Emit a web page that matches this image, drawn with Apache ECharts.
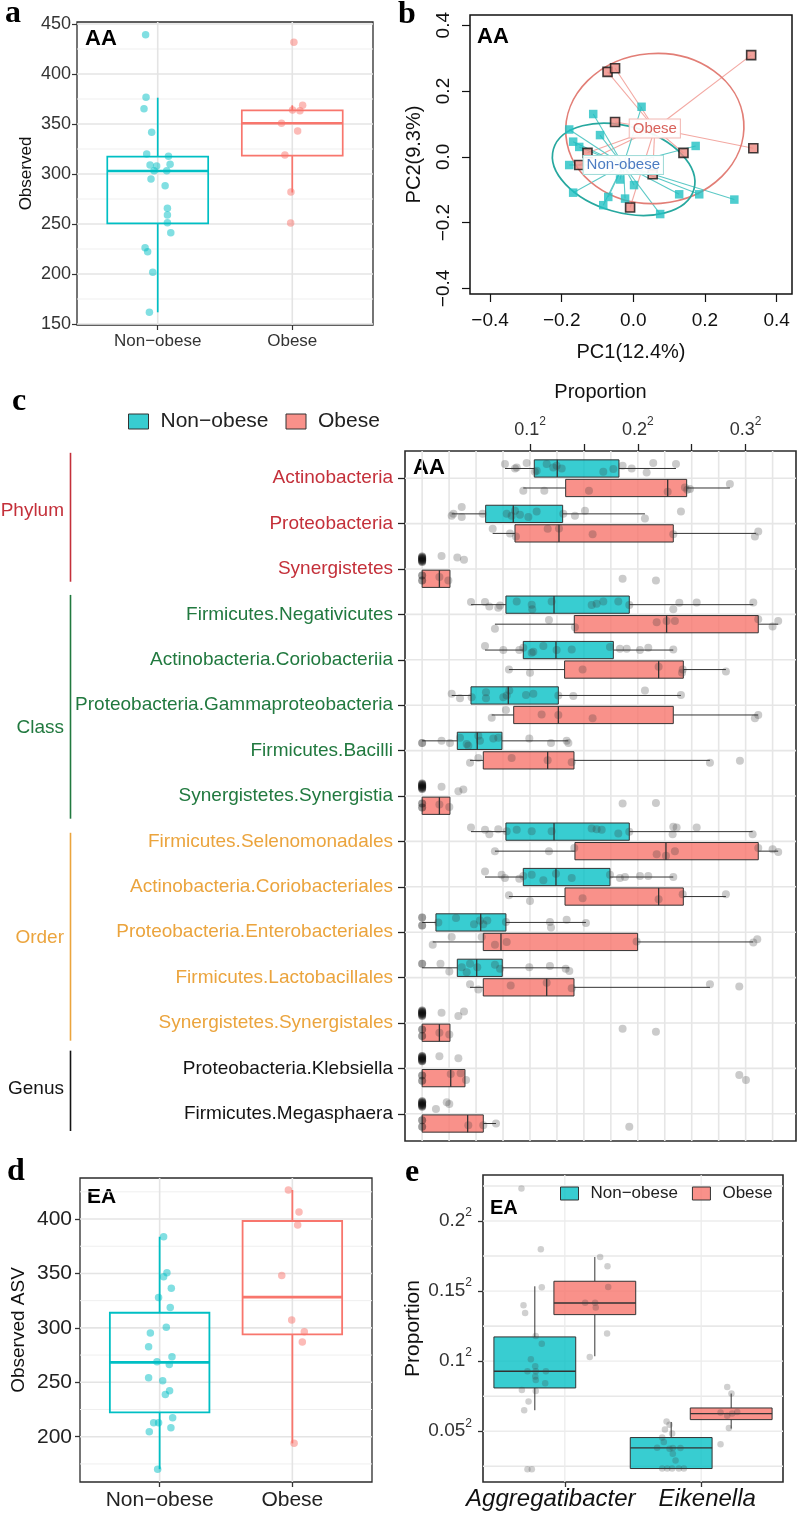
<!DOCTYPE html>
<html><head><meta charset="utf-8">
<script src="https://cdn.jsdelivr.net/npm/echarts@6/dist/echarts.min.js"></script>
<style>html,body{margin:0;padding:0;background:#fff}#chart{width:800px;height:1513px}</style>
</head><body><div id="chart"></div>
<script>
// ================= DATA =================
// ---- panel a (AA, observed richness) ----
const aCategories = ['Non\u2212obese', 'Obese'];
const aYTicks = [150, 200, 250, 300, 350, 400, 450];
const aYMinor = [175, 225, 275, 325, 375, 425];
const aBoxNonObese = [161.7, 250.7, 303, 317.3, 376.3];   // lower whisker, Q1, median, Q3, upper whisker
const aBoxObese = [281.5, 318.3, 350.7, 363.7, 368.7];
const aPtsNonObese = [439.3, 376.7, 365.3, 341.7, 320, 317.7, 309, 308, 309.7, 303.3, 303.3, 295, 288.3, 265.7, 259, 251.3, 241.3, 226.3, 222.3, 201.7, 161.7];
const aJitNonObese = [-0.09, -0.087, -0.102, -0.045, -0.082, 0.08, -0.057, -0.008, 0.092, -0.027, 0.067, -0.05, 0.055, 0.072, 0.072, 0.072, 0.097, -0.094, -0.075, -0.037, -0.062];
const aPtsObese = [431.7, 368.7, 364, 363.3, 350.7, 343, 319, 282, 251];
const aJitObese = [0.012, 0.077, 0.002, 0.057, -0.08, 0.04, -0.055, -0.01, -0.012];

// ---- panel b (AA, PCoA) ----
const bTicks = [-0.4, -0.2, 0, 0.2, 0.4];
const bObese = [[-0.072, 0.258], [-0.051, 0.269], [0.329, 0.309], [-0.051, 0.106], [-0.128, 0.012], [0.14, 0.012], [0.335, 0.026], [0.054, -0.053], [-0.009, -0.154], [-0.151, -0.025]];
const bNonObese = [[0.023, 0.152], [-0.112, 0.13], [-0.179, 0.083], [-0.093, 0.066], [-0.168, 0.046], [-0.151, 0.03], [0.174, 0.033], [-0.179, -0.025], [-0.037, -0.069], [0.002, -0.086], [-0.168, -0.109], [-0.07, -0.122], [-0.023, -0.127], [-0.084, -0.147], [0.128, -0.114], [0.184, -0.114], [0.282, -0.13], [0.075, -0.174]];
const bCentroidObese = [0.06, 0.086];
const bCentroidNonObese = [-0.028, -0.025];
const bEllipseObese = [0.06, 0.086, 0.249, 0.228];        // centre x, centre y, semi-axis x, semi-axis y
const bEllipseObeseRot = 0.08;
const bEllipseNonObese = [-0.027, -0.038, 0.204, 0.131];
const bEllipseNonObeseRot = -0.28;

// ---- panel c (AA, taxa proportions, sqrt scale) ----
const cCategories = ['Actinobacteria', 'Proteobacteria', 'Synergistetes', 'Firmicutes.Negativicutes', 'Actinobacteria.Coriobacteriia', 'Proteobacteria.Gammaproteobacteria', 'Firmicutes.Bacilli', 'Synergistetes.Synergistia', 'Firmicutes.Selenomonadales', 'Actinobacteria.Coriobacteriales', 'Proteobacteria.Enterobacteriales', 'Firmicutes.Lactobacillales', 'Synergistetes.Synergistales', 'Proteobacteria.Klebsiella', 'Firmicutes.Megasphaera'];
const cLevels = ['Phylum', 'Phylum', 'Phylum', 'Class', 'Class', 'Class', 'Class', 'Class', 'Order', 'Order', 'Order', 'Order', 'Order', 'Genus', 'Genus'];
const cGroupNames = ['Phylum', 'Class', 'Order', 'Genus'];
const cGroupSpan = [[0.44, 3.28], [3.57, 8.5], [8.81, 13.39], [13.61, 15.38]];
const cGroupLabelAt = [1.72, 6.5, 11.13, 14.45];
const cXTicks = [0.1, 0.15, 0.2, 0.25, 0.3];
const cXLabels = [0.1, 0.2, 0.3];
const cYTicks = [1, 2, 3, 4, 5, 6, 7, 8, 9, 10, 11, 12, 13, 14, 15];
const cXGrid = [0, 0.025, 0.05, 0.075, 0.1, 0.125, 0.15, 0.175, 0.2, 0.225, 0.25, 0.275, 0.3, 0.325];
const cBoxNonObese = [
  [0.0768, 0.104, 0.1253, 0.1825, 0.2354],
  [0.0274, 0.0589, 0.0845, 0.1303, 0.2066],
  null,
  [0.0453, 0.0777, 0.1223, 0.1921, 0.3071],
  [0.0583, 0.0938, 0.1241, 0.1773, 0.2329],
  [0.0274, 0.0453, 0.0799, 0.1263, 0.24],
  [0, 0.0326, 0.0511, 0.074, 0.1356],
  null,
  [0.0453, 0.0777, 0.1223, 0.1921, 0.3065],
  [0.0583, 0.0938, 0.1241, 0.1742, 0.2329],
  [0, 0.0128, 0.0543, 0.0777, 0.1519],
  [0, 0.0326, 0.0506, 0.0743, 0.1365],
  null, null, null
];
const cBoxObese = [
  [0.0938, 0.1331, 0.2277, 0.2453, 0.2854],
  [0.0654, 0.0861, 0.1269, 0.2329, 0.3095],
  [0, 0, 0.016, 0.0258, 0.0258],
  [0.0675, 0.1411, 0.2267, 0.3117, 0.3302],
  [0.0805, 0.1321, 0.2193, 0.2422, 0.2817],
  [0.0645, 0.0849, 0.1263, 0.2329, 0.3117],
  [0.0444, 0.0567, 0.1164, 0.1408, 0.2669],
  [0, 0, 0.016, 0.0258, 0.0258],
  [0.0675, 0.1417, 0.2261, 0.3117, 0.3302],
  [0.0805, 0.1325, 0.2193, 0.2422, 0.2817],
  [0.0098, 0.0567, 0.0731, 0.1998, 0.3071],
  [0.0444, 0.0567, 0.1155, 0.1408, 0.2669],
  [0, 0, 0.016, 0.0258, 0.0258],
  [0, 0, 0.0265, 0.0397, 0.0397],
  [0, 0, 0.0422, 0.0567, 0.0685]
];
// jittered samples: [sqrt proportion, vertical jitter]
const cPtsNonObese = [
  [[0.0768,-0.1],[0.0861,0],[0.0877,-0.02],[0.0969,-0.12],[0.1045,0.07],[0.1062,0.05],[0.1155,-0.1],[0.1216,-0.02],[0.1247,-0.06],[0.1294,0],[0.168,0.07],[0.1773,0.01],[0.1859,-0.06],[0.1943,0],[0.2082,0.09],[0.2143,-0.12],[0.2354,-0.1]],
  [[0.0274,0.04],[0.029,0],[0.0367,-0.15],[0.0367,0.07],[0.0561,0],[0.0784,0],[0.083,0.04],[0.0861,-0.07],[0.0907,0.02],[0.0985,0.07],[0.1062,-0.05],[0.1309,0],[0.1417,0.04],[0.151,-0.07],[0.2066,0.1],[0.24,-0.05]],
  [[0,-0.06],[0,-0.04],[0,-0.02],[0,0],[0,0.02],[0,0.04],[0,0.06],[0.018,-0.07],[0.0326,-0.04],[0.0388,0.01]],
  [[0.0453,-0.06],[0.0583,-0.06],[0.0623,0.04],[0.0706,0.07],[0.0722,0.02],[0.0877,-0.07],[0.1016,0],[0.1021,0.1],[0.1201,-0.07],[0.1572,0.01],[0.1618,-0.02],[0.168,-0.07],[0.1819,-0.07],[0.1921,0.01],[0.2329,0.1],[0.2385,-0.04],[0.2546,-0.05],[0.3071,-0.05]],
  [[0.0583,-0.09],[0.0753,0],[0.0901,0],[0.0938,-0.05],[0.1016,0.06],[0.1031,0.04],[0.1124,-0.09],[0.1247,0],[0.1387,-0.01],[0.1742,-0.07],[0.1834,-0.03],[0.1897,-0.03],[0.202,0],[0.2097,-0.05],[0.2329,-0.01]],
  [[0.0274,-0.04],[0.0351,0.06],[0.0459,0.04],[0.0592,-0.07],[0.0592,0.06],[0.0753,0.04],[0.0784,0],[0.0808,-0.11],[0.0963,-0.01],[0.1031,-0.04],[0.1263,0],[0.1402,0.01],[0.2066,-0.11],[0.24,-0.01]],
  [[0,0.05],[0.018,0],[0.0258,0.05],[0.0351,-0.07],[0.0413,0.07],[0.0428,0.11],[0.0521,-0.11],[0.0536,0],[0.066,-0.05],[0.0706,-0.07],[0.0994,-0.05],[0.1195,0.05],[0.134,0],[0.1356,0.05]],
  [[0,-0.06],[0,-0.04],[0,-0.02],[0,0],[0,0.02],[0,0.04],[0,0.06],[0.018,0.01],[0.0336,0.11],[0.0382,0.07]],
  [[0.0453,-0.09],[0.0583,-0.04],[0.0623,0.06],[0.0706,-0.05],[0.0784,-0.01],[0.0877,-0.04],[0.1016,-0.01],[0.1201,-0.01],[0.1572,-0.07],[0.1618,-0.05],[0.1665,-0.04],[0.1819,0.04],[0.1921,0],[0.2329,-0.11],[0.2323,0.06],[0.236,-0.09],[0.2546,-0.09],[0.3065,0.06]],
  [[0.0583,-0.12],[0.0737,-0.05],[0.0768,0.02],[0.0901,0.04],[0.0938,-0.02],[0.1016,-0.05],[0.1124,0.07],[0.1241,-0.07],[0.1387,0.02],[0.1742,-0.05],[0.1834,0.02],[0.1881,0],[0.202,-0.02],[0.2097,-0.02],[0.2329,0]],
  [[0,-0.11],[0,0.07],[0.015,0],[0.0314,-0.1],[0.0481,0.04],[0.0536,-0.04],[0.0567,0.04],[0.0604,-0.04],[0.0777,-0.01],[0.1185,-0.01],[0.1195,0.11],[0.134,-0.06],[0.1519,0.01]],
  [[0,-0.09],[0.017,-0.09],[0.0252,0.08],[0.0367,-0.01],[0.0413,0.1],[0.0444,-0.09],[0.0511,-0.01],[0.0675,-0.07],[0.0722,0.02],[0.0994,-0.01],[0.1185,-0.04],[0.1331,0.02],[0.1365,0.07]],
  [[0,-0.06],[0,-0.04],[0,-0.02],[0,0],[0,0.02],[0,0.04],[0,0.06],[0.018,-0.01],[0.0336,0.06],[0.0388,-0.04]],
  [[0,-0.06],[0,-0.04],[0,-0.02],[0,0],[0,0.02],[0,0.04],[0,0.06],[0.016,-0.05],[0.0336,-0.01]],
  [[0,-0.06],[0,-0.04],[0,-0.02],[0,0],[0,0.02],[0,0.04],[0,0.06],[0.0128,0.11],[0.0228,-0.04],[0.0252,0]]
];
const cPtsObese = [
  [[0.0938,0.06],[0.1133,0.06],[0.1547,0.06],[0.2277,0.08],[0.2437,-0.01],[0.2459,0.04],[0.2484,0.02],[0.2854,-0.09]],
  [[0.0654,-0.1],[0.0815,0],[0.087,0.07],[0.1164,-0.1],[0.1269,-0.11],[0.1581,0.02],[0.2329,0.02],[0.3086,0.07],[0.3117,-0.04]],
  [[0,-0.07],[0,0.04],[0.016,-0.04],[0.0243,0.04],[0.1859,0],[0.2168,0.04]],
  [[0.0675,0.1],[0.1176,-0.09],[0.1417,0.07],[0.2175,-0.04],[0.2267,-0.07],[0.2344,-0.07],[0.3117,-0.11],[0.325,0.05],[0.3302,-0.07]],
  [[0.0805,0],[0.1,0.07],[0.1488,0],[0.2193,-0.06],[0.241,0.07],[0.2416,0],[0.2817,0.04]],
  [[0.0645,0.06],[0.0777,-0.11],[0.1108,-0.01],[0.1263,0],[0.1581,0.07],[0.3086,0.07],[0.3117,0]],
  [[0.0444,0.05],[0.0521,-0.05],[0.083,-0.05],[0.1164,0],[0.1387,0.04],[0.2669,0.05],[0.2947,0.01]],
  [[0,-0.05],[0,0.04],[0.016,-0.03],[0.0252,0.03],[0.1859,-0.05],[0.2168,-0.06]],
  [[0.0675,0],[0.1176,0],[0.1411,-0.07],[0.2175,0.07],[0.2261,0.1],[0.2344,0],[0.3117,-0.07],[0.325,-0.04],[0.3302,0.02]],
  [[0.0805,-0.03],[0.1,0.1],[0.1488,0.04],[0.2193,0.06],[0.2416,-0.05],[0.2817,-0.05]],
  [[0.0098,0.06],[0.0274,-0.11],[0.0552,-0.11],[0.0675,0.06],[0.0784,0],[0.1989,-0.01],[0.3071,0.01],[0.3108,-0.06]],
  [[0.0444,-0.07],[0.0521,0.05],[0.0821,-0.04],[0.1155,-0.1],[0.1387,0.02],[0.2669,-0.07],[0.2941,-0.02]],
  [[0,-0.07],[0,0.07],[0.016,0],[0.0252,0.04],[0.1859,-0.09],[0.2168,-0.02]],
  [[0,-0.06],[0,0.06],[0.0265,-0.09],[0.0357,-0.11],[0.0407,0.04],[0.2941,-0.07],[0.3003,0.04]],
  [[0,-0.07],[0,0.07],[0.0428,0.04],[0.0567,0.04],[0.0685,0],[0.1921,0.07]]
];

// ---- panel d (EA, observed ASV) ----
const dCategories = ['Non\u2212obese', 'Obese'];
const dYTicks = [200, 250, 300, 350, 400];
const dYMinor = [175, 225, 275, 325, 375, 425];
const dBoxNonObese = [170.2, 222.3, 268.3, 313.9, 383.7];
const dBoxObese = [193.9, 294, 328.3, 398.2, 426.7];
const dPtsNonObese = [383.7, 350.6, 347, 336.3, 328, 318.8, 300.5, 295.2, 282.6, 268.8, 273.4, 266.4, 254.1, 251.4, 242.2, 238.9, 217.4, 212.8, 212.8, 204.5, 208.2, 170.2];
const dJitNonObese = [0.03, 0.055, 0.03, 0.088, -0.008, 0.08, 0.05, -0.07, -0.083, -0.02, 0.093, 0.073, -0.083, 0.023, 0.075, 0.043, 0.098, -0.008, -0.045, -0.078, 0.085, -0.015];
const dPtsObese = [426.7, 406.4, 394.5, 348.2, 307.2, 296.4, 287, 193.9];
const dJitObese = [-0.03, 0.05, 0.04, -0.08, -0.005, 0.09, 0.075, 0.013];

// ---- panel e (EA, genera, sqrt scale) ----
const eCategories = ['Aggregatibacter', 'Eikenella'];
const eYTicks = [0.05, 0.1, 0.15, 0.2];
const eYMinor = [0.025, 0.075, 0.125, 0.175, 0.225];
const eBoxNonObese = [[0.065, 0.0809, 0.0928, 0.1173, 0.1534], [0.0234, 0.0234, 0.0381, 0.0455, 0.0566]];
const eBoxObese = [[0.1035, 0.1332, 0.1415, 0.157, 0.1743], [0.0519, 0.0583, 0.0626, 0.0666, 0.0769]];
// [offset from category centre, sqrt proportion]
const ePtsNonObese = [
  [[-0.318,0.2231],[-0.176,0.1798],[-0.169,0.1527],[-0.303,0.1399],[-0.291,0.1344],[-0.213,0.118],[-0.169,0.1125],[-0.249,0.1014],[-0.217,0.0964],[-0.213,0.0928],[-0.274,0.0928],[-0.139,0.0928],[-0.217,0.089],[-0.213,0.0866],[-0.144,0.0842],[-0.315,0.0795],[-0.213,0.0788],[-0.266,0.0712],[-0.298,0.065],[-0.274,0.0229],[-0.242,0.0229]],
  [[-0.254,0.057],[-0.232,0.0547],[-0.266,0.0512],[-0.213,0.0484],[-0.286,0.0455],[-0.274,0.0424],[-0.323,0.0383],[-0.232,0.0376],[-0.208,0.0381],[-0.152,0.0381],[-0.208,0.034],[-0.188,0.0292],[-0.286,0.0234],[-0.249,0.0234],[-0.213,0.0234],[-0.164,0.0234],[-0.127,0.0234]]
];
const ePtsObese = [
  [[0.259,0.1743],[0.313,0.1677],[0.318,0.1529],[0.149,0.1417],[0.222,0.1417],[0.227,0.1382],[0.31,0.1197],[0.183,0.103]],
  [[0.191,0.0816],[0.222,0.0769],[0.142,0.0634],[0.191,0.0611],[0.227,0.0626],[0.264,0.0638],[0.203,0.0523],[0.142,0.0407]]
];

// ================= STYLE / HELPERS =================
const F = '"Liberation Sans", Arial, Helvetica, sans-serif';
const SERIF = '"Liberation Serif", "Times New Roman", serif';
const TEAL = '#00BFC4', RED = '#F8766D';
const TEAL_FILL = 'rgba(0,191,196,0.78)', RED_FILL = 'rgba(248,118,109,0.8)';
const levelKey = {Phylum: 'p', Class: 'c', Order: 'o', Genus: 'g'};
const levelColor = {Phylum: '#C4303A', Class: '#21793F', Order: '#EBA43D', Genus: '#141414'};

function lineEl(x1, y1, x2, y2, stroke, w) {
  return {type: 'line', shape: {x1, y1, x2, y2}, style: {stroke, lineWidth: w}};
}
function vBoxRenderer(halfW, fill, stroke, lw, medW) {
  return function (params, api) {
    const x = api.value(0);
    const lo = api.value(1), q1 = api.value(2), md = api.value(3), q3 = api.value(4), hi = api.value(5);
    const pLo = api.coord([x, lo]), pHi = api.coord([x, hi]);
    const pA = api.coord([x - halfW, q3]), pB = api.coord([x + halfW, q1]);
    const pM = api.coord([x - halfW, md]), pN = api.coord([x + halfW, md]);
    return {type: 'group', children: [
      lineEl(pLo[0], pLo[1], pLo[0], pB[1], stroke, lw),
      lineEl(pHi[0], pA[1], pHi[0], pHi[1], stroke, lw),
      {type: 'rect', shape: {x: pA[0], y: pA[1], width: pB[0] - pA[0], height: pB[1] - pA[1]}, style: {fill, stroke, lineWidth: lw}},
      lineEl(pM[0], pM[1], pN[0], pN[1], stroke, medW)
    ]};
  };
}
function hBoxRenderer(halfH, fill, stroke, lw, medW) {
  return function (params, api) {
    const y = api.value(0);
    const lo = api.value(1), q1 = api.value(2), md = api.value(3), q3 = api.value(4), hi = api.value(5);
    const pLo = api.coord([lo, y]), pHi = api.coord([hi, y]);
    const pA = api.coord([q1, y - halfH]), pB = api.coord([q3, y + halfH]);
    const pM = api.coord([md, y - halfH]), pN = api.coord([md, y + halfH]);
    const top = Math.min(pA[1], pB[1]), h = Math.abs(pB[1] - pA[1]);
    const ch = [];
    if (pA[0] - pLo[0] > 0.5) ch.push(lineEl(pLo[0], pLo[1], pA[0], pLo[1], stroke, lw));
    if (pHi[0] - pB[0] > 0.5) ch.push(lineEl(pB[0], pHi[1], pHi[0], pHi[1], stroke, lw));
    ch.push({type: 'rect', shape: {x: pA[0], y: top, width: Math.max(pB[0] - pA[0], 0.5), height: h}, style: {fill, stroke, lineWidth: lw}});
    ch.push(lineEl(pM[0], pM[1], pN[0], pN[1], stroke, medW));
    return {type: 'group', children: ch};
  };
}
function gridLineSeries(gi, hVals, vVals, color, width) {
  const data = hVals.map(v => [v, 0]).concat(vVals.map(v => [v, 1]));
  return {type: 'custom', xAxisIndex: gi, yAxisIndex: gi, silent: true, z: 1, data,
    renderItem: function (params, api) {
      const v = api.value(0), kind = api.value(1), cs = params.coordSys;
      if (kind === 0) { const y = api.coord([0, v])[1]; return lineEl(cs.x, y, cs.x + cs.width, y, color, width); }
      const x = api.coord([v, 0])[0]; return lineEl(x, cs.y, x, cs.y + cs.height, color, width);
    }};
}
function supLabel(v) { return '{b|' + String(+v.toFixed(2)) + '}{s|2}'; }
function minusFmt(v) { return (Math.abs(v) < 1e-9 ? '0.0' : v.toFixed(1)).replace('-', '\u2212'); }
function txt(text, x, y, font, color, align) {
  return {type: 'text', x, y, silent: true, style: {text, font, fill: color || '#000', align: align || 'left', textAlign: align || 'left', verticalAlign: 'middle', textVerticalAlign: 'middle'}};
}
function baseAxis(o) {
  return Object.assign({type: 'value', axisLine: {show: false, onZero: false}, splitLine: {show: false}, minorTick: {show: false}, minorSplitLine: {show: false}}, o);
}
const gridBase = {show: true, backgroundColor: 'transparent', borderColor: '#2b2b2b', borderWidth: 1.3, containLabel: false, outerBoundsMode: 'none'};

// ================= BUILD DATA FOR SERIES =================
const aBoxData = [[1].concat(aBoxNonObese)], aBoxDataO = [[2].concat(aBoxObese)];
const aScNO = aPtsNonObese.map((v, i) => [1 + aJitNonObese[i], v]);
const aScO = aPtsObese.map((v, i) => [2 + aJitObese[i], v]);

const dBoxData = [[1].concat(dBoxNonObese)], dBoxDataO = [[2].concat(dBoxObese)];
const dScNO = dPtsNonObese.map((v, i) => [1 + dJitNonObese[i], v]);
const dScO = dPtsObese.map((v, i) => [2 + dJitObese[i], v]);

const C_OFF = 0.215, C_HALF = 0.19;
const cBoxNO = [], cBoxO = [], cPts = [];
cCategories.forEach((name, i) => {
  if (cBoxNonObese[i]) cBoxNO.push([i + 1 - C_OFF].concat(cBoxNonObese[i]));
  if (cBoxObese[i]) cBoxO.push([i + 1 + C_OFF].concat(cBoxObese[i]));
  cPtsNonObese[i].forEach(p => cPts.push([p[0], i + 1 - C_OFF + p[1]]));
  cPtsObese[i].forEach(p => cPts.push([p[0], i + 1 + C_OFF + p[1]]));
});
const cRich = {};
cGroupNames.forEach(g => { cRich[levelKey[g]] = {color: levelColor[g], fontSize: 19, fontFamily: F}; });

const E_OFF = 0.22, E_HALF = 0.3;
const eBoxNO = eBoxNonObese.map((b, i) => [i + 1 - E_OFF].concat(b));
const eBoxO = eBoxObese.map((b, i) => [i + 1 + E_OFF].concat(b));
const ePts = [];
eCategories.forEach((c, i) => {
  ePtsNonObese[i].forEach(p => ePts.push([i + 1 + p[0], p[1]]));
  ePtsObese[i].forEach(p => ePts.push([i + 1 + p[0], p[1]]));
});
const supRich = (fs) => ({b: {fontSize: fs, color: '#333', fontFamily: F}, s: {fontSize: 12, color: '#333', fontFamily: F, padding: [0, 0, 16, 0]}});
const eLabelRich = {
  g0: {fontSize: 24, fontStyle: 'italic', color: '#111', fontFamily: F, padding: [0, 28, 0, 0]},
  g1: {fontSize: 24, fontStyle: 'italic', color: '#111', fontFamily: F, padding: [0, 0, 0, 12]}
};

// ================= OPTION =================
const option = {
  animation: false,
  backgroundColor: '#fff',
  textStyle: {fontFamily: F},
  grid: [
    Object.assign({left: 77, top: 22, width: 296, height: 303}, gridBase),
    Object.assign({left: 470, top: 15, width: 322, height: 279}, gridBase, {borderColor: '#111', borderWidth: 1.5}),
    Object.assign({left: 405, top: 451, width: 391, height: 690}, gridBase, {borderWidth: 1.6}),
    {left: 0, top: 451, width: 100, height: 690, show: false, containLabel: false, outerBoundsMode: 'none'},
    Object.assign({left: 80, top: 1178, width: 292, height: 304}, gridBase),
    Object.assign({left: 483, top: 1175, width: 300, height: 307}, gridBase, {borderWidth: 1.6})
  ],
  xAxis: [
    baseAxis({gridIndex: 0, min: 0.4, max: 2.6,
      axisTick: {customValues: [1, 2], length: 5, lineStyle: {color: '#333', width: 1.2}},
      axisLabel: {customValues: [1, 2], formatter: v => aCategories[Math.round(v) - 1], fontSize: 17, color: '#333', margin: 8}}),
    baseAxis({gridIndex: 1, min: -0.456, max: 0.443,
      axisTick: {customValues: bTicks, length: 8, lineStyle: {color: '#111', width: 1.2}},
      axisLabel: {customValues: bTicks, formatter: minusFmt, fontSize: 19, color: '#111', margin: 17},
      name: 'PC1(12.4%)', nameLocation: 'middle', nameGap: 48, nameTextStyle: {fontSize: 20, color: '#111'}}),
    baseAxis({gridIndex: 2, position: 'top', min: -0.0159, max: 0.3467,
      axisTick: {customValues: cXTicks, length: 7, lineStyle: {color: '#222', width: 1.3}},
      axisLabel: {customValues: cXLabels, formatter: supLabel, rich: supRich(18), margin: 7},
      name: 'Proportion', nameLocation: 'middle', nameGap: 49, nameTextStyle: {fontSize: 20, color: '#111'}}),
    baseAxis({gridIndex: 3, min: 0, max: 100, show: false}),
    baseAxis({gridIndex: 4, min: 0.4, max: 2.6,
      axisTick: {customValues: [1, 2], length: 5, lineStyle: {color: '#333', width: 1.3}},
      axisLabel: {customValues: [1, 2], formatter: v => dCategories[Math.round(v) - 1], fontSize: 21, color: '#222', margin: 8}}),
    baseAxis({gridIndex: 5, min: 0.4, max: 2.6,
      axisTick: {customValues: [1, 2], length: 5, lineStyle: {color: '#333', width: 1.3}},
      axisLabel: {customValues: [1, 2], formatter: v => { const i = Math.round(v) - 1; return '{g' + i + '|' + eCategories[i] + '}'; }, rich: eLabelRich, margin: 5}})
  ],
  yAxis: [
    baseAxis({gridIndex: 0, min: 149, max: 452,
      axisTick: {customValues: aYTicks, length: 5, lineStyle: {color: '#333', width: 1.2}},
      axisLabel: {customValues: aYTicks, fontSize: 18, color: '#333', margin: 6},
      name: 'Observed', nameLocation: 'middle', nameGap: 42, nameTextStyle: {fontSize: 17, color: '#111'}}),
    baseAxis({gridIndex: 1, min: -0.417, max: 0.431,
      axisTick: {customValues: bTicks, length: 8, lineStyle: {color: '#111', width: 1.2}},
      axisLabel: {customValues: bTicks, formatter: minusFmt, rotate: 90, fontSize: 19, color: '#111', margin: 17},
      name: 'PC2(9.3%)', nameLocation: 'middle', nameGap: 46, nameTextStyle: {fontSize: 20, color: '#111'}}),
    baseAxis({gridIndex: 2, min: 0.4, max: 15.6, inverse: true,
      axisTick: {customValues: cYTicks, length: 7, lineStyle: {color: '#222', width: 1.3}},
      axisLabel: {customValues: cYTicks, margin: 12, rich: cRich,
        formatter: v => { const i = Math.round(v) - 1; return '{' + levelKey[cLevels[i]] + '|' + cCategories[i] + '}'; }}}),
    baseAxis({gridIndex: 3, min: 0.4, max: 15.6, inverse: true, show: false}),
    baseAxis({gridIndex: 4, min: 158.4, max: 437.7,
      axisTick: {customValues: dYTicks, length: 5, lineStyle: {color: '#333', width: 1.3}},
      axisLabel: {customValues: dYTicks, fontSize: 21, color: '#222', margin: 8},
      name: 'Observed ASV', nameLocation: 'middle', nameGap: 52, nameTextStyle: {fontSize: 19, color: '#111'}}),
    baseAxis({gridIndex: 5, min: 0.0138, max: 0.2328,
      axisTick: {customValues: eYTicks, length: 5, lineStyle: {color: '#333', width: 1.3}},
      axisLabel: {customValues: eYTicks, formatter: supLabel, rich: supRich(19), margin: 11},
      name: 'Proportion', nameLocation: 'middle', nameGap: 59, nameTextStyle: {fontSize: 21, color: '#111'}})
  ],
  legend: [
    {left: 123, top: 406, itemWidth: 20, itemHeight: 15, itemGap: 17, selectedMode: false, orient: 'horizontal',
      textStyle: {fontSize: 21, color: '#222', padding: [0, 0, 0, 7]}, formatter: n => n.replace('-', '\u2212'),
      data: [{name: 'Non-obese', icon: 'rect', itemStyle: {color: TEAL_FILL, borderColor: '#333', borderWidth: 1}},
             {name: 'Obese', icon: 'rect', itemStyle: {color: RED_FILL, borderColor: '#333', borderWidth: 1}}]},
    {left: 555, top: 1180, itemWidth: 18, itemHeight: 13, itemGap: 14, selectedMode: false, orient: 'horizontal',
      textStyle: {fontSize: 17, color: '#222', padding: [0, 0, 0, 7]}, formatter: n => n.replace('-', '\u2212'),
      data: [{name: 'Non-obese', icon: 'rect', itemStyle: {color: TEAL_FILL, borderColor: '#333', borderWidth: 1}},
             {name: 'Obese', icon: 'rect', itemStyle: {color: RED_FILL, borderColor: '#333', borderWidth: 1}}]}
  ],
  graphic: {elements: [
    txt('a', 5, 14, 'bold 32px ' + SERIF),
    txt('b', 398, 15, 'bold 32px ' + SERIF),
    txt('c', 12, 402, 'bold 32px ' + SERIF),
    txt('d', 7, 1172, 'bold 32px ' + SERIF),
    txt('e', 405, 1173, 'bold 32px ' + SERIF),
    txt('AA', 85, 39, 'bold 22px ' + F, '#000'),
    txt('AA', 477, 37, 'bold 22px ' + F, '#000'),
    txt('AA', 413, 468, 'bold 22px ' + F, '#000'),
    txt('EA', 87, 1197, 'bold 21px ' + F, '#000'),
    txt('EA', 490, 1208, 'bold 20px ' + F, '#000')
  ]},
  series: [
    // ----- panel a -----
    gridLineSeries(0, aYMinor, [], '#efefef', 1),
    gridLineSeries(0, aYTicks, [1, 2], '#e4e4e4', 1.6),
    {type: 'custom', xAxisIndex: 0, yAxisIndex: 0, z: 2, silent: true, data: aBoxData, encode: {x: 0, y: [1, 2, 3, 4, 5]},
      renderItem: vBoxRenderer(0.375, 'none', TEAL, 1.7, 2.6)},
    {type: 'custom', xAxisIndex: 0, yAxisIndex: 0, z: 2, silent: true, data: aBoxDataO, encode: {x: 0, y: [1, 2, 3, 4, 5]},
      renderItem: vBoxRenderer(0.375, 'none', RED, 1.7, 2.6)},
    {type: 'scatter', xAxisIndex: 0, yAxisIndex: 0, z: 3, silent: true, symbolSize: 7.5, data: aScNO, itemStyle: {color: 'rgba(0,191,196,0.62)'}},
    {type: 'scatter', xAxisIndex: 0, yAxisIndex: 0, z: 3, silent: true, symbolSize: 7.5, data: aScO, itemStyle: {color: 'rgba(248,118,109,0.62)'}},
    // ----- panel b -----
    {type: 'custom', xAxisIndex: 1, yAxisIndex: 1, z: 1, silent: true, data: bObese,
      renderItem: (params, api) => { const c = api.coord(bCentroidObese), p = api.coord([api.value(0), api.value(1)]); return lineEl(c[0], c[1], p[0], p[1], '#F3A8A2', 1.1); }},
    {type: 'custom', xAxisIndex: 1, yAxisIndex: 1, z: 1, silent: true, data: bNonObese,
      renderItem: (params, api) => { const c = api.coord(bCentroidNonObese), p = api.coord([api.value(0), api.value(1)]); return lineEl(c[0], c[1], p[0], p[1], '#5CC9C6', 1.1); }},
    {type: 'custom', xAxisIndex: 1, yAxisIndex: 1, z: 2, silent: true, data: [bEllipseObese],
      renderItem: (params, api) => {
        const c = api.coord([api.value(0), api.value(1)]); const s = api.size([api.value(2), api.value(3)], [api.value(0), api.value(1)]);
        return {type: 'ellipse', x: c[0], y: c[1], rotation: bEllipseObeseRot, shape: {cx: 0, cy: 0, rx: s[0], ry: s[1]}, style: {fill: 'none', stroke: '#E27E76', lineWidth: 1.7}};
      }},
    {type: 'custom', xAxisIndex: 1, yAxisIndex: 1, z: 2, silent: true, data: [bEllipseNonObese],
      renderItem: (params, api) => {
        const c = api.coord([api.value(0), api.value(1)]); const s = api.size([api.value(2), api.value(3)], [api.value(0), api.value(1)]);
        return {type: 'ellipse', x: c[0], y: c[1], rotation: bEllipseNonObeseRot, shape: {cx: 0, cy: 0, rx: s[0], ry: s[1]}, style: {fill: 'none', stroke: '#27A89F', lineWidth: 1.7}};
      }},
    {type: 'scatter', xAxisIndex: 1, yAxisIndex: 1, z: 3, silent: true, symbol: 'rect', symbolSize: 8.5, data: bNonObese, itemStyle: {color: '#22C1C3'}},
    {type: 'scatter', xAxisIndex: 1, yAxisIndex: 1, z: 3, silent: true, symbol: 'rect', symbolSize: 9, data: bObese, itemStyle: {color: '#EE8A82', borderColor: '#111', borderWidth: 1.6}},
    {type: 'custom', xAxisIndex: 1, yAxisIndex: 1, z: 4, silent: true, data: [bCentroidObese, bCentroidNonObese],
      renderItem: (params, api) => {
        const c = api.coord([api.value(0), api.value(1)]); const ob = params.dataIndex === 0;
        return {type: 'text', x: c[0], y: c[1], style: {text: ob ? 'Obese' : 'Non-obese', fill: ob ? '#D8625B' : '#4C7CC2', font: '15px ' + F,
          align: 'center', textAlign: 'center', verticalAlign: 'middle', textVerticalAlign: 'middle', backgroundColor: 'rgba(255,255,255,0.92)',
          borderColor: ob ? '#F2B9B4' : '#A3DCD9', borderWidth: 1, padding: [2, 3, 1, 3]}};
      }},
    // ----- panel c -----
    gridLineSeries(2, cYTicks, cXGrid, '#e6e6e6', 1.6),
    {type: 'custom', name: 'Non-obese', xAxisIndex: 2, yAxisIndex: 2, z: 2, silent: true, data: cBoxNO, encode: {y: 0, x: [1, 2, 3, 4, 5]},
      itemStyle: {color: TEAL_FILL}, renderItem: hBoxRenderer(C_HALF, TEAL_FILL, '#333', 1, 1.3)},
    {type: 'custom', name: 'Obese', xAxisIndex: 2, yAxisIndex: 2, z: 2, silent: true, data: cBoxO, encode: {y: 0, x: [1, 2, 3, 4, 5]},
      itemStyle: {color: RED_FILL}, renderItem: hBoxRenderer(C_HALF, RED_FILL, '#333', 1, 1.3)},
    {type: 'scatter', xAxisIndex: 2, yAxisIndex: 2, z: 3, silent: true, symbolSize: 8, data: cPts,
      itemStyle: {color: p => (p.value[0] === 0 ? 'rgba(10,10,10,0.5)' : 'rgba(55,55,55,0.32)')}},
    {type: 'custom', xAxisIndex: 3, yAxisIndex: 3, z: 2, silent: true, data: cGroupNames.map((g, i) => [i, cGroupSpan[i][0], cGroupSpan[i][1], cGroupLabelAt[i]]),
      encode: {x: 0, y: [1, 2, 3]},
      renderItem: (params, api) => {
        const g = cGroupNames[api.value(0)], col = levelColor[g];
        const p1 = api.coord([70.5, api.value(1)]), p2 = api.coord([70.5, api.value(2)]), pl = api.coord([64, api.value(3)]);
        return {type: 'group', children: [
          lineEl(p1[0], p1[1], p2[0], p2[1], col, 1.6),
          {type: 'text', x: pl[0], y: pl[1], style: {text: g, fill: col, font: '19px ' + F, align: 'right', textAlign: 'right', verticalAlign: 'middle', textVerticalAlign: 'middle'}}
        ]};
      }},
    // ----- panel d -----
    gridLineSeries(4, dYMinor, [], '#efefef', 1),
    gridLineSeries(4, dYTicks, [1, 2], '#e4e4e4', 1.6),
    {type: 'custom', xAxisIndex: 4, yAxisIndex: 4, z: 2, silent: true, data: dBoxData, encode: {x: 0, y: [1, 2, 3, 4, 5]},
      renderItem: vBoxRenderer(0.375, 'none', TEAL, 1.8, 2.8)},
    {type: 'custom', xAxisIndex: 4, yAxisIndex: 4, z: 2, silent: true, data: dBoxDataO, encode: {x: 0, y: [1, 2, 3, 4, 5]},
      renderItem: vBoxRenderer(0.375, 'none', RED, 1.8, 2.8)},
    {type: 'scatter', xAxisIndex: 4, yAxisIndex: 4, z: 3, silent: true, symbolSize: 7.5, data: dScNO, itemStyle: {color: 'rgba(0,191,196,0.62)'}},
    {type: 'scatter', xAxisIndex: 4, yAxisIndex: 4, z: 3, silent: true, symbolSize: 7.5, data: dScO, itemStyle: {color: 'rgba(248,118,109,0.62)'}},
    // ----- panel e -----
    gridLineSeries(5, eYMinor, [], '#e8e8e8', 1.6),
    gridLineSeries(5, eYTicks, [1, 2], '#ececec', 1.3),
    {type: 'custom', name: 'Non-obese', xAxisIndex: 5, yAxisIndex: 5, z: 2, silent: true, data: eBoxNO, encode: {x: 0, y: [1, 2, 3, 4, 5]},
      itemStyle: {color: TEAL_FILL}, renderItem: vBoxRenderer(E_HALF, TEAL_FILL, '#333', 1, 1.3)},
    {type: 'custom', name: 'Obese', xAxisIndex: 5, yAxisIndex: 5, z: 2, silent: true, data: eBoxO, encode: {x: 0, y: [1, 2, 3, 4, 5]},
      itemStyle: {color: RED_FILL}, renderItem: vBoxRenderer(E_HALF, RED_FILL, '#333', 1, 1.3)},
    {type: 'scatter', xAxisIndex: 5, yAxisIndex: 5, z: 3, silent: true, symbolSize: 6.5, data: ePts, itemStyle: {color: 'rgba(60,60,60,0.3)'}}
  ]
};
const chart = echarts.init(document.getElementById('chart'), null, {renderer: 'canvas', width: 800, height: 1513});
chart.setOption(option);
</script></body></html>
